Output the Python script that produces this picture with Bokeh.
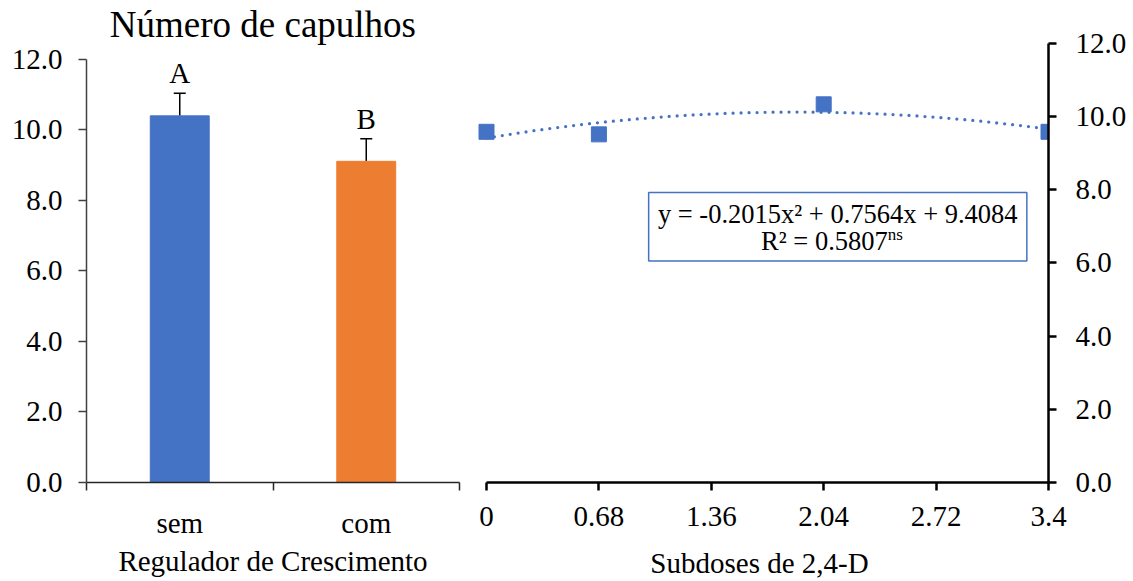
import numpy as np
from bokeh.plotting import figure
from bokeh.layouts import row
from bokeh.models import FixedTicker, Whisker, TeeHead, ColumnDataSource, Range1d
from bokeh.core.properties import value
from bokeh.embed import file_html
from bokeh.resources import INLINE

FONT = "Liberation Serif"
BLUE = "#4472C4"
ORANGE = "#ED7D31"

# --- data: growth regulator (left panel) ---
reguladores = ["sem", "com"]
capulhos_reg = [10.40, 9.11]
erro_reg = [0.64, 0.64]
letras = ["A", "B"]
cores_reg = [BLUE, ORANGE]

y_ticks = [0, 2, 4, 6, 8, 10, 12]

# --- data: 2,4-D subdoses (right panel) ---
doses = [0, 0.68, 2.04, 3.4]
capulhos_dose = [9.58, 9.51, 10.33, 9.58]
dose_ticks = [0, 0.68, 1.36, 2.04, 2.72, 3.4]
dose_labels = ["0", "0.68", "1.36", "2.04", "2.72", "3.4"]
coef_a, coef_b, coef_c = -0.2015, 0.7564, 9.4084
r2 = 0.5807

H = 581
W1 = 465
W2 = 1133 - W1
FS = "29px"


def clean(fig):
    fig.outline_line_color = None
    fig.xgrid.grid_line_color = None
    fig.ygrid.grid_line_color = None
    fig.background_fill_color = "white"
    fig.border_fill_color = "white"


def style_axis(ax, color, width, standoff):
    ax.major_tick_out = 8
    ax.major_tick_in = 0
    ax.minor_tick_out = 0
    ax.minor_tick_in = 0
    ax.axis_line_color = color
    ax.axis_line_width = width
    ax.major_tick_line_color = color
    ax.major_tick_line_width = width
    ax.major_label_standoff = standoff
    ax.major_label_text_font = FONT
    ax.major_label_text_font_size = FS
    ax.major_label_text_color = "black"
    ax.axis_label_text_font = FONT
    ax.axis_label_text_font_size = FS
    ax.axis_label_text_font_style = "normal"
    ax.axis_label_text_color = "black"


# ---------------- left panel: bars ----------------
p1 = figure(width=W1, height=H, x_range=Range1d(0, 2), y_range=Range1d(0, 13.53),
            output_backend="svg", toolbar_location=None,
            min_border_left=86, min_border_right=6, min_border_top=5, min_border_bottom=93)
clean(p1)

xpos = [i + 0.5 for i in range(len(reguladores))]
tops = [m + e for m, e in zip(capulhos_reg, erro_reg)]
src = ColumnDataSource(dict(x=xpos, top=capulhos_reg, upper=tops, color=cores_reg, letra=letras))

p1.vbar(x="x", top="top", width=0.316, fill_color="color", line_color="color", source=src)
p1.add_layout(Whisker(source=src, base="x", lower="top", upper="upper",
                      line_color="black", line_width=1.5,
                      upper_head=TeeHead(size=12, line_color="black", line_width=1.5),
                      lower_head=None))
p1.text(x="x", y="upper", text="letra", source=src, y_offset=-20,
        text_align="center", text_baseline="middle",
        text_font=value(FONT), text_font_size=FS, text_color="black")

p1.text(x=[0.946], y=[13.0], text=["Número de capulhos"],
        text_align="center", text_baseline="middle",
        text_font=value(FONT), text_font_size="37px", text_color="black")

ya = p1.yaxis[0]
style_axis(ya, "#404040", 1.5, 16)
ya.ticker = FixedTicker(ticks=y_ticks)
ya.bounds = (0, 12)
ya.major_label_overrides = {t: f"{t:.1f}" for t in y_ticks}

xa = p1.xaxis[0]
style_axis(xa, "#262626", 1.5, 16)
xa.ticker = FixedTicker(ticks=xpos, minor_ticks=[0, 1, 2])
xa.major_label_overrides = {x: lab for x, lab in zip(xpos, reguladores)}
xa.major_tick_line_color = None
xa.minor_tick_out = 8
xa.minor_tick_line_color = "#262626"
xa.minor_tick_line_width = 1.5
xa.axis_label = "Regulador de Crescimento"
xa.axis_label_standoff = 3

# ---------------- right panel: doses ----------------
p2 = figure(width=W2, height=H, x_range=Range1d(-0.0968, 3.4), y_range=Range1d(0, 13.03),
            output_backend="svg", toolbar_location=None, y_axis_location="right",
            min_border_left=5, min_border_right=85, min_border_top=5, min_border_bottom=94)
clean(p2)

# quadratic trend from the fitted coefficients
xs = np.linspace(dose_ticks[0], dose_ticks[-1], 300)
ys = coef_a * xs ** 2 + coef_b * xs + coef_c
p2.line(xs, ys, line_color=BLUE, line_width=3.25, line_dash="0 8", line_cap="round")

pts = p2.scatter(doses, capulhos_dose, marker="square", size=15,
                 fill_color=BLUE, line_color=BLUE, line_width=1)
# let the end markers overhang the plot frame where the renderer allows it
if "clip" in pts.properties():
    pts.clip = False

# equation box
p2.quad(left=[0.981], right=[3.269], bottom=[6.05], top=[7.92],
        fill_color="white", line_color=BLUE, line_width=1.5)
eq_x = 2.125
p2.text(x=[eq_x], y=[7.33], text=[f"y = {coef_a:.4f}x² + {coef_b:.4f}x + {coef_c:.4f}"],
        text_align="center", text_baseline="middle",
        text_font=value(FONT), text_font_size="26.5px", text_color="black")
p2.text(x=[eq_x], y=[6.61], text=[f"R² = {r2:.4f}"], x_offset=50,
        text_align="right", text_baseline="middle",
        text_font=value(FONT), text_font_size="26.5px", text_color="black")
p2.text(x=[eq_x], y=[6.61], text=["ns"], x_offset=50, y_offset=-6,
        text_align="left", text_baseline="middle",
        text_font=value(FONT), text_font_size="17px", text_color="black")

yb = p2.yaxis[0]
style_axis(yb, "black", 2.5, 19)
yb.ticker = FixedTicker(ticks=y_ticks)
yb.bounds = (0, 12)
yb.major_label_overrides = {t: f"{t:.1f}" for t in y_ticks}

xb = p2.xaxis[0]
style_axis(xb, "black", 2.5, 16)
xb.ticker = FixedTicker(ticks=dose_ticks)
xb.bounds = (dose_ticks[0], dose_ticks[-1])
xb.major_label_overrides = {t: lab for t, lab in zip(dose_ticks, dose_labels)}
xb.axis_label = "Subdoses de 2,4-D"
xb.axis_label_standoff = 18

layout = row(p1, p2)
open("out.html", "w").write(file_html(layout, INLINE))
